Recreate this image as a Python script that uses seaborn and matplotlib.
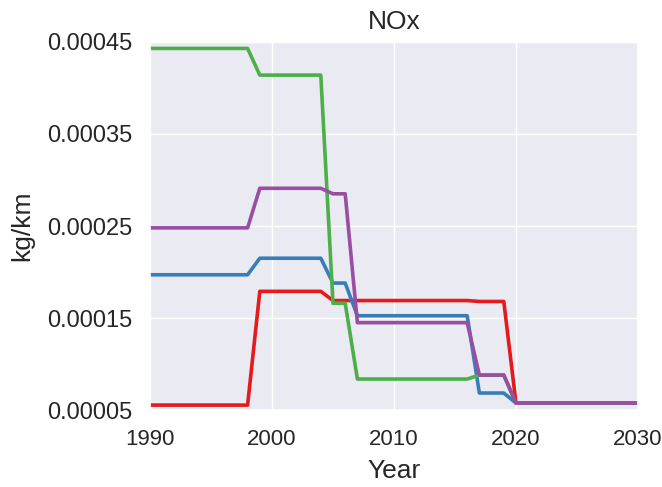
import numpy as np
import pandas as pd
import matplotlib
matplotlib.use("Agg")
import matplotlib.pyplot as plt
import seaborn as sns

years = list(range(1990, 2031))

# Emission factors per year (kg/km), one series per vehicle class
red_nox = [0.0000554] * 9 + [0.000179] * 6 + [0.000169] * 12 + [0.000168] * 3 + [0.0000576] * 11
blue_nox = [0.000197] * 9 + [0.000215] * 6 + [0.000188] * 2 + [0.0001525] * 10 + [0.0000685] * 3 + [0.0000576] * 11
green_nox = [0.000443] * 9 + [0.000414] * 6 + [0.000166] * 2 + [0.0000837] * 10 + [0.000088] * 3 + [0.0000576] * 11
purple_nox = [0.000248] * 9 + [0.000291] * 6 + [0.000285] * 2 + [0.000145] * 10 + [0.000088] * 3 + [0.0000576] * 11

series_names = ["s1", "s2", "s3", "s4"]
series_values = [red_nox, blue_nox, green_nox, purple_nox]
colors = ["#e41a1c", "#377eb8", "#4daf4a", "#984ea3"]

y_ticks = [0.00005, 0.00015, 0.00025, 0.00035, 0.00045]
y_tick_labels = ["0.00005", "0.00015", "0.00025", "0.00035", "0.00045"]
x_ticks = [1990, 2000, 2010, 2020, 2030]

frames = []
for name, vals in zip(series_names, series_values):
    frames.append(pd.DataFrame({"Year": years, "value": vals, "series": name}))
df = pd.concat(frames, ignore_index=True)

sns.set_theme(style="darkgrid")
plt.rcParams["font.family"] = ["Liberation Sans", "DejaVu Sans"]

fig = plt.figure(figsize=(6.62, 4.87), dpi=100)
ax = fig.add_axes([0.2266, 0.158, 0.7371, 0.7558])

sns.lineplot(data=df, x="Year", y="value", hue="series", palette=colors,
             linewidth=2.6, legend=False, ax=ax)

ax.set_xlim(1990, 2030)
ax.set_ylim(0.00005, 0.00045)
ax.set_xticks(x_ticks)
ax.set_xticklabels([str(t) for t in x_ticks])
ax.set_yticks(y_ticks)
ax.set_yticklabels(y_tick_labels)
ax.tick_params(axis="y", labelsize=17, pad=7)
ax.tick_params(axis="x", labelsize=16, pad=8)
ax.set_xlabel("Year", fontsize=19, labelpad=6)
ax.set_ylabel("kg/km", fontsize=19, labelpad=9)
ax.set_title("NOx", fontsize=19, pad=9)

fig.savefig("out.png", dpi=100)
